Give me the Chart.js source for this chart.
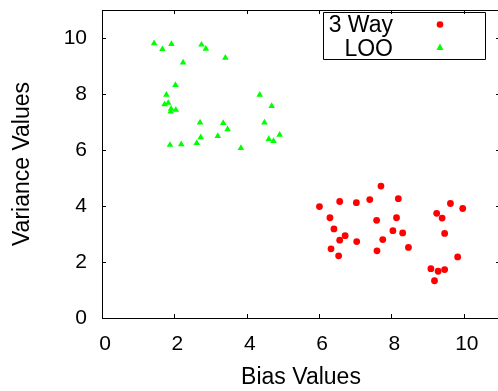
<!DOCTYPE html>
<html>
<head>
<meta charset="utf-8">
<script src="https://cdn.jsdelivr.net/npm/chart.js@4"></script>
<style>
    html, body { margin: 0; padding: 0; background: #fff; }
    #wrap { width: 498px; height: 391px; overflow: hidden; }
    #wrap canvas { display: block; }
</style>
</head>
<body>
<div id="wrap"><canvas id="bias-chart" width="504" height="391"></canvas></div>
<script>
// Données (biais, variance)
const threeWayBias = [6.01, 6.57, 7.03, 7.40, 7.71, 8.19, 6.30, 7.59, 8.14, 6.41, 6.72, 6.57, 7.04, 8.04, 8.31,
    7.76, 6.33, 6.54, 7.60, 8.47, 9.63, 9.97, 9.25, 9.40, 9.47, 9.83, 9.09, 9.29, 9.47, 9.19];
const threeWayVariance = [3.98, 4.16, 4.12, 4.23, 4.71, 4.26, 3.58, 3.49, 3.58, 3.18, 2.94, 2.78, 2.73, 3.12, 3.04,
    2.80, 2.47, 2.22, 2.40, 2.52, 4.09, 3.91, 3.74, 3.57, 3.02, 2.18, 1.76, 1.67, 1.73, 1.33];

const looBias = [1.44, 1.67, 1.92, 2.75, 2.87, 2.24, 3.41, 2.03, 1.78, 1.83, 1.73, 1.91, 2.04, 1.90, 4.36,
    4.69, 2.71, 3.35, 3.47, 4.49, 2.73, 3.20, 4.61, 4.91, 4.74, 2.62, 1.88, 2.19, 3.84];
const looVariance = [9.81, 9.60, 9.78, 9.76, 9.61, 9.12, 9.29, 8.32, 7.97, 7.68, 7.63, 7.47, 7.43, 7.37, 7.97,
    7.57, 6.98, 6.96, 6.74, 6.98, 6.45, 6.50, 6.39, 6.54, 6.32, 6.25, 6.18, 6.20, 6.07];

const seriesLabels = ['3 Way', 'LOO'];
const xTicks = [0, 2, 4, 6, 8, 10];
const yTicks = [0, 2, 4, 6, 8, 10];

const FONT = '"Liberation Sans", Arial, Helvetica, sans-serif';

function toPoints(xs, ys) {
    return xs.map((x, i) => ({ x: x, y: ys[i] }));
}

/**
 * Cadre du haut, petites graduations intérieures (style gnuplot) et légende encadrée
 */
const gnuplotFrame = {
    id: 'gnuplotFrame',
    afterDraw(chart) {
        const ctx = chart.ctx;
        const area = chart.chartArea;
        const xs = chart.scales.x;
        const ys = chart.scales.y;
        const tick = 4;

        ctx.save();
        ctx.strokeStyle = '#000';
        ctx.lineWidth = 1;
        ctx.beginPath();
        ctx.moveTo(area.left, area.top + 0.5);
        ctx.lineTo(area.right, area.top + 0.5);
        ctx.moveTo(area.right - 0.5, area.top);
        ctx.lineTo(area.right - 0.5, area.bottom);

        xTicks.forEach(v => {
            const px = Math.round(xs.getPixelForValue(v)) + 0.5;
            ctx.moveTo(px, area.bottom);
            ctx.lineTo(px, area.bottom - tick);
            ctx.moveTo(px, area.top);
            ctx.lineTo(px, area.top + tick);
        });
        yTicks.forEach(v => {
            const py = Math.round(ys.getPixelForValue(v)) + 0.5;
            ctx.moveTo(area.left, py);
            ctx.lineTo(area.left + tick, py);
            ctx.moveTo(area.right, py);
            ctx.lineTo(area.right - tick, py);
        });
        ctx.stroke();

        // Légende
        ctx.beginPath();
        ctx.rect(323.5, 12.5, 162, 47);
        ctx.stroke();

        ctx.fillStyle = '#000';
        ctx.font = '23px ' + FONT;
        ctx.textAlign = 'right';
        ctx.textBaseline = 'alphabetic';
        ctx.fillText(seriesLabels[0], 393, 32);
        ctx.fillText(seriesLabels[1], 393, 56);

        ctx.fillStyle = '#ff0000';
        ctx.beginPath();
        ctx.arc(440, 24.5, 3.3, 0, Math.PI * 2);
        ctx.fill();

        ctx.fillStyle = '#00ff00';
        ctx.beginPath();
        ctx.moveTo(440, 43.5);
        ctx.lineTo(443.5, 50);
        ctx.lineTo(436.5, 50);
        ctx.closePath();
        ctx.fill();
        ctx.restore();
    }
};

const ctx = document.getElementById('bias-chart').getContext('2d');
const biasChart = new Chart(ctx, {
    type: 'scatter',
    data: {
        datasets: [{
            label: seriesLabels[0],
            data: toPoints(threeWayBias, threeWayVariance),
            pointStyle: 'circle',
            pointRadius: 3.4,
            backgroundColor: '#ff0000',
            borderWidth: 0
        }, {
            label: seriesLabels[1],
            data: toPoints(looBias, looVariance),
            pointStyle: 'triangle',
            pointRadius: 3.8,
            backgroundColor: '#00ff00',
            borderWidth: 0
        }]
    },
    options: {
        responsive: false,
        animation: false,
        layout: {
            padding: { top: 10, right: 0, left: 0, bottom: 0 }
        },
        plugins: {
            legend: { display: false },
            tooltip: { enabled: false }
        },
        scales: {
            x: {
                type: 'linear',
                min: 0,
                max: 11,
                afterFit: scale => {
                    scale.height = 73;
                    scale.paddingLeft = 0;
                    scale.paddingRight = 0;
                },
                afterBuildTicks: scale => { scale.ticks = xTicks.map(v => ({ value: v })); },
                grid: { display: false, drawTicks: false },
                border: { display: true, color: '#000', width: 1 },
                ticks: {
                    color: '#000',
                    padding: 14,
                    labelOffset: 3,
                    font: { family: FONT, size: 21 }
                },
                title: {
                    display: true,
                    text: 'Bias Values',
                    color: '#000',
                    padding: { top: 2, bottom: 0 },
                    font: { family: FONT, size: 23 }
                }
            },
            y: {
                type: 'linear',
                min: 0,
                max: 11,
                afterFit: scale => {
                    scale.width = 102;
                    scale.paddingTop = 0;
                    scale.paddingBottom = 0;
                },
                afterBuildTicks: scale => { scale.ticks = yTicks.map(v => ({ value: v })); },
                grid: { display: false, drawTicks: false },
                border: { display: true, color: '#000', width: 1 },
                ticks: {
                    color: '#000',
                    padding: 15,
                    font: { family: FONT, size: 21 }
                },
                title: {
                    display: true,
                    text: 'Variance Values',
                    color: '#000',
                    padding: { top: 9, bottom: 0 },
                    font: { family: FONT, size: 23 }
                }
            }
        }
    },
    plugins: [gnuplotFrame]
});
</script>
</body>
</html>
